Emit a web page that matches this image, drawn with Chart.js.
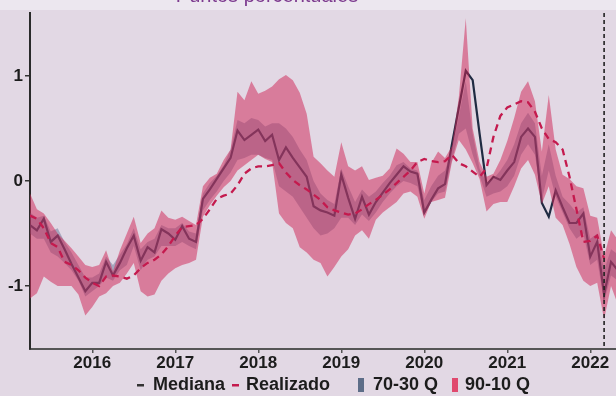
<!DOCTYPE html>
<html>
<head>
<meta charset="utf-8">
<script src="https://cdn.jsdelivr.net/npm/chart.js@4.4.1/dist/chart.umd.min.js"></script>
<style>
  html, body { margin: 0; padding: 0; background: #e2d8e4; overflow: hidden; }
  #wrap { position: relative; width: 616px; height: 396px; }
</style>
</head>
<body>
<div id="wrap"><canvas id="c" width="616" height="396"></canvas></div>
<script>
// Monthly series, first observation April 2015
const startYear = 2015;
const startMonth = 4;

// Median of the forecast distribution (percentage points)
const median = [
  -0.42,-0.47,-0.36,-0.58,-0.52,-0.65,-0.79,-0.92,-1.05,-0.97,
  -0.97,-0.77,-0.90,-0.78,-0.64,-0.52,-0.76,-0.63,-0.68,-0.46,
  -0.50,-0.56,-0.43,-0.55,-0.58,-0.17,-0.08,0.02,0.12,0.22,
  0.48,0.39,0.44,0.49,0.38,0.44,0.20,0.32,0.22,0.13,
  0.04,-0.24,-0.28,-0.30,-0.33,0.06,-0.16,-0.36,-0.15,-0.32,
  -0.20,-0.11,-0.02,0.06,0.14,0.09,0.07,-0.30,-0.18,-0.07,
  -0.03,0.35,0.70,1.05,0.96,0.45,-0.04,0.04,0.01,0.10,
  0.18,0.42,0.50,0.42,-0.21,-0.34,-0.09,-0.25,-0.40,-0.40,
  -0.31,-0.72,-0.58,-1.08,-0.77,-0.85
];

// Realised values
const realizado = [
  -0.33,-0.36,-0.45,-0.59,-0.63,-0.77,-0.80,-0.85,-0.92,-0.97,
  -1.00,-0.91,-0.90,-0.91,-0.93,-0.90,-0.83,-0.78,-0.75,-0.70,
  -0.62,-0.52,-0.44,-0.43,-0.42,-0.36,-0.27,-0.17,-0.14,-0.12,
  -0.04,0.07,0.12,0.14,0.14,0.15,0.17,0.08,0.01,-0.04,
  -0.08,-0.13,-0.18,-0.25,-0.28,-0.30,-0.32,-0.31,-0.27,-0.22,
  -0.18,-0.13,-0.08,-0.02,0.04,0.10,0.18,0.21,0.19,0.18,
  0.19,0.25,0.17,0.14,0.09,0.04,0.12,0.42,0.62,0.70,
  0.73,0.76,0.75,0.66,0.50,0.40,0.37,0.30,0.04,-0.27,
  -0.58,-0.57,-0.52,-0.74,null,null
];

// 90th / 10th quantiles
const q90 = [
  -0.12,-0.27,-0.31,-0.40,-0.50,-0.57,-0.64,-0.72,-0.80,-0.82,
  -0.80,-0.66,-0.86,-0.66,-0.50,-0.34,-0.59,-0.50,-0.45,-0.28,
  -0.35,-0.37,-0.34,-0.38,-0.42,-0.05,0.03,0.07,0.20,0.30,
  0.85,0.77,0.95,0.83,0.86,0.90,0.97,1.01,0.96,0.84,
  0.64,0.23,0.17,0.10,0.04,0.37,0.14,0.10,0.14,0.01,
  0.03,0.05,0.12,0.31,0.26,0.18,0.18,-0.12,0.17,0.28,
  0.22,0.33,0.80,1.55,0.50,0.18,0.04,0.07,0.20,0.38,
  0.60,0.85,0.95,0.76,0.28,0.82,0.30,0.06,0.02,-0.05,
  -0.07,-0.33,-0.35,-0.72,-0.47,-0.56
];
const q10 = [
  -1.12,-1.07,-0.91,-0.96,-1.00,-1.00,-1.00,-1.08,-1.28,-1.20,
  -1.10,-1.07,-1.00,-0.97,-0.88,-0.78,-1.05,-1.10,-1.08,-0.95,
  -0.88,-0.83,-0.80,-0.78,-0.75,-0.34,-0.23,-0.14,-0.06,0.00,
  0.10,0.15,0.20,0.25,0.21,0.18,-0.31,-0.40,-0.45,-0.63,
  -0.68,-0.75,-0.78,-0.91,-0.82,-0.72,-0.65,-0.52,-0.47,-0.55,
  -0.37,-0.30,-0.25,-0.20,-0.12,-0.10,-0.15,-0.36,-0.20,-0.18,
  -0.16,0.18,0.39,0.30,0.17,0.02,-0.29,-0.22,-0.20,-0.20,
  -0.05,0.12,0.20,0.06,-0.22,-0.05,-0.35,-0.42,-0.60,-0.82,
  -0.95,-1.00,-0.97,-1.32,-1.00,-1.18
];

// 70th / 30th quantiles
const q70 = [
  -0.30,-0.35,-0.33,-0.48,-0.45,-0.58,-0.68,-0.80,-0.92,-0.92,
  -0.88,-0.72,-0.80,-0.70,-0.60,-0.45,-0.65,-0.58,-0.55,-0.42,
  -0.45,-0.45,-0.40,-0.48,-0.50,-0.12,-0.02,0.05,0.15,0.30,
  0.58,0.55,0.60,0.58,0.52,0.55,0.55,0.50,0.42,0.30,
  0.20,0.00,-0.12,-0.18,-0.22,0.12,-0.05,-0.20,-0.08,-0.15,
  -0.10,-0.02,0.05,0.15,0.18,0.12,0.10,-0.18,-0.05,0.05,
  0.10,0.30,0.62,0.95,0.45,0.12,-0.02,0.02,0.10,0.20,
  0.35,0.55,0.65,0.55,0.05,0.35,0.05,-0.15,-0.22,-0.30,
  -0.25,-0.55,-0.50,-0.85,-0.65,-0.70
];
const q30 = [
  -0.50,-0.55,-0.55,-0.68,-0.72,-0.78,-0.85,-0.95,-1.10,-1.05,
  -1.00,-0.92,-0.95,-0.85,-0.80,-0.62,-0.85,-0.75,-0.72,-0.62,
  -0.62,-0.62,-0.58,-0.62,-0.65,-0.28,-0.18,-0.10,0.00,0.08,
  0.20,0.22,0.25,0.25,0.22,0.20,-0.05,-0.10,-0.15,-0.25,
  -0.35,-0.45,-0.52,-0.50,-0.45,-0.35,-0.35,-0.42,-0.32,-0.38,
  -0.30,-0.20,-0.12,-0.05,0.00,-0.02,-0.05,-0.32,-0.20,-0.12,
  -0.10,0.20,0.45,0.50,0.25,0.05,-0.15,-0.12,-0.10,-0.05,
  0.05,0.25,0.35,0.25,-0.18,0.10,-0.15,-0.30,-0.45,-0.55,
  -0.50,-0.80,-0.75,-1.15,-0.90,-0.95
];

const yearTicks = [2016, 2017, 2018, 2019, 2020, 2021, 2022];
const valueTicks = [-1, 0, 1];
const cutoff = { year: 2022, month: 3 };
const titleText = 'Puntos porcentuales';
const legendLabels = ['Mediana', 'Realizado', '70-30 Q', '90-10 Q'];

const FONT = "'Liberation Sans', Arial, sans-serif";
const C_MEDIAN = '#1f2b42';
const C_REAL = '#c41a4e';
const C_BAND_IN = 'rgba(80,98,135,0.42)';
const C_BAND_OUT = 'rgba(208,40,88,0.52)';

// month index -> decimal year
const monthPos = (i) => {
  const m = startMonth - 1 + i;
  return startYear + Math.floor(m / 12) + (m % 12) / 12;
};
const toPoints = (arr) => arr.map((v, i) => ({ x: monthPos(i), y: v }));

const xMin = monthPos(0);
const xMax = 2022.31;

const background = {
  id: 'background',
  beforeDraw(chart) {
    const { ctx, width, height } = chart;
    ctx.save();
    ctx.fillStyle = '#e2d8e4';
    ctx.fillRect(0, 0, width, height);
    ctx.fillStyle = '#ece7ef';
    ctx.fillRect(0, 0, width, 10);
    ctx.fillStyle = '#7d3b8f';
    ctx.font = '20px ' + FONT;
    ctx.textAlign = 'center';
    ctx.textBaseline = 'alphabetic';
    ctx.fillText(titleText, 267, 2);
    ctx.restore();
  }
};

const cutoffLine = {
  id: 'cutoffLine',
  afterDatasetsDraw(chart) {
    const { ctx, chartArea, scales } = chart;
    const x = scales.x.getPixelForValue(cutoff.year + (cutoff.month - 1) / 12);
    ctx.save();
    ctx.strokeStyle = '#222';
    ctx.lineWidth = 1.6;
    ctx.setLineDash([4, 3]);
    ctx.beginPath();
    ctx.moveTo(x, chartArea.top);
    ctx.lineTo(x, chartArea.bottom);
    ctx.stroke();
    ctx.restore();
  }
};

const legendRow = {
  id: 'legendRow',
  afterDraw(chart) {
    const { ctx } = chart;
    const y = 385;
    ctx.save();
    ctx.font = 'bold 18px ' + FONT;
    ctx.textBaseline = 'middle';
    ctx.textAlign = 'left';
    // Mediana
    ctx.fillStyle = '#333';
    ctx.fillRect(137, y - 1, 7, 2.5);
    ctx.fillStyle = '#1c1c1c';
    ctx.fillText(legendLabels[0], 153, y);
    // Realizado
    ctx.fillStyle = C_REAL;
    ctx.fillRect(232, y - 1, 7, 2.5);
    ctx.fillStyle = '#1c1c1c';
    ctx.fillText(legendLabels[1], 246, y);
    // 70-30 Q
    ctx.fillStyle = '#5d6d88';
    ctx.fillRect(358, y - 7, 6, 14);
    ctx.fillStyle = '#1c1c1c';
    ctx.fillText(legendLabels[2], 373, y);
    // 90-10 Q
    ctx.fillStyle = '#e0496e';
    ctx.fillRect(452, y - 7, 6, 14);
    ctx.fillStyle = '#1c1c1c';
    ctx.fillText(legendLabels[3], 465, y);
    ctx.restore();
  }
};

new Chart(document.getElementById('c'), {
  type: 'line',
  data: {
    datasets: [
      { label: 'Realizado', data: toPoints(realizado), borderColor: C_REAL, borderWidth: 2.3,
        borderDash: [7, 5], pointRadius: 0, fill: false, order: 0 },
      { label: '90', data: toPoints(q90), borderColor: 'transparent', borderWidth: 0, pointRadius: 0,
        backgroundColor: C_BAND_OUT, fill: { target: 2 }, order: 1 },
      { label: '10', data: toPoints(q10), borderColor: 'transparent', borderWidth: 0, pointRadius: 0,
        fill: false, order: 1 },
      { label: '70', data: toPoints(q70), borderColor: 'transparent', borderWidth: 0, pointRadius: 0,
        backgroundColor: C_BAND_IN, fill: { target: 4 }, order: 2 },
      { label: '30', data: toPoints(q30), borderColor: 'transparent', borderWidth: 0, pointRadius: 0,
        fill: false, order: 2 },
      { label: 'Mediana', data: toPoints(median), borderColor: C_MEDIAN, borderWidth: 2.2,
        pointRadius: 0, fill: false, order: 3 }
    ]
  },
  options: {
    responsive: false,
    animation: false,
    devicePixelRatio: 1,
    layout: { padding: { top: 13, bottom: 23, left: 0, right: 0 } },
    elements: { line: { tension: 0 } },
    plugins: {
      legend: { display: false },
      title: { display: false },
      tooltip: { enabled: false },
      filler: { propagate: false }
    },
    scales: {
      x: {
        type: 'linear',
        min: xMin,
        max: xMax,
        afterBuildTicks: (s) => { s.ticks = yearTicks.map(v => ({ value: v })); },
        afterFit: (s) => { s.height = 24; },
        ticks: {
          callback: (v) => String(v),
          color: '#1c1c1c',
          font: { family: FONT, size: 17, weight: 'bold' },
          padding: 0,
          maxRotation: 0,
          autoSkip: false
        },
        grid: { drawOnChartArea: false, drawTicks: true, tickLength: 4, color: '#555', lineWidth: 1.5 },
        border: { display: true, color: '#555', width: 2 }
      },
      y: {
        min: -1.6,
        max: 1.6,
        afterBuildTicks: (s) => { s.ticks = valueTicks.map(v => ({ value: v })); },
        afterFit: (s) => { s.width = 30; },
        ticks: {
          callback: (v) => String(v),
          color: '#1c1c1c',
          font: { family: FONT, size: 17, weight: 'bold' },
          padding: 2
        },
        grid: { drawOnChartArea: false, drawTicks: true, tickLength: 5, color: '#333', lineWidth: 1.5 },
        border: { display: true, color: '#2a2a2a', width: 2 }
      }
    }
  },
  plugins: [background, cutoffLine, legendRow]
});
</script>
</body>
</html>
